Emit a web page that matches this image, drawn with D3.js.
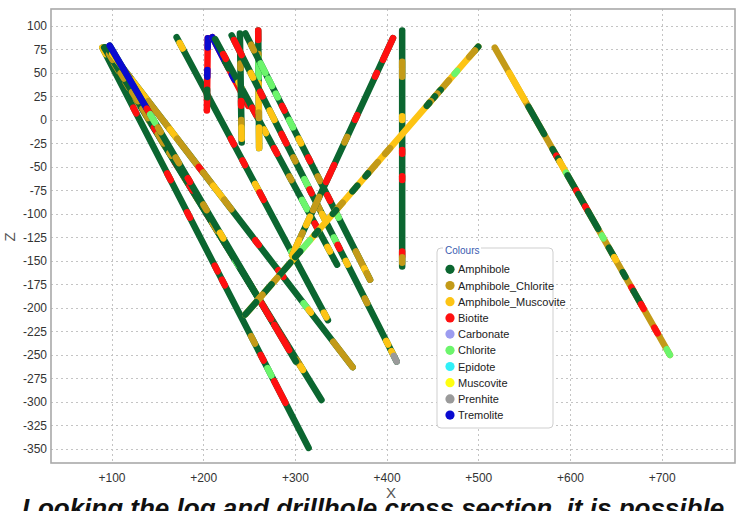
<!DOCTYPE html>
<html>
<head>
<meta charset="utf-8">
<script src="https://cdn.jsdelivr.net/npm/d3@7"></script>
<style>
  body { margin: 0; background: #ffffff; }
  svg { display: block; font-family: "Liberation Sans", Arial, sans-serif; }
</style>
</head>
<body>
<svg id="chart" width="736" height="511"></svg>
<script>
// Lithology legend
const lithCodes   = ["AM", "AC", "AMU", "BI", "CA", "CH", "EP", "MU", "PR", "TR"];
const lithNames   = ["Amphibole", "Amphibole_Chlorite", "Amphibole_Muscovite", "Biotite", "Carbonate",
                     "Chlorite", "Epidote", "Muscovite", "Prenhite", "Tremolite"];
const lithColours = ["#0b6630", "#c39a18", "#fdc414", "#ff1010", "#9c9cf0",
                     "#6cf56c", "#30f0f8", "#ffff10", "#9a9a9a", "#0a0ad0"];

// Axis ticks
const xTicks = [100, 200, 300, 400, 500, 600, 700];
const zTicks = [100, 75, 50, 25, 0, -25, -50, -75, -100, -125, -150, -175, -200,
                -225, -250, -275, -300, -325, -350];

// Drillhole traces in section: collar (x0, z0), end of hole (x1, z1), background lithology
const holes = [
  { id: "DH01", x0: 90,  z0: 77, x1: 315, z1: -349, base: "AM" },
  { id: "DH02", x0: 92,  z0: 77, x1: 329, z1: -298, base: "AM" },
  { id: "DH04", x0: 93,  z0: 77, x1: 296, z1: -247, base: "AM" },
  { id: "DH05", x0: 96,  z0: 76, x1: 363, z1: -263, base: "AM" },
  { id: "DH03", x0: 98,  z0: 79, x1: 301, z1: -257, base: "AM" },
  { id: "DH06", x0: 171, z0: 88, x1: 336, z1: -213, base: "AM" },
  { id: "DH07", x0: 205, z0: 87, x1: 204, z1: 10,   base: "BI" },
  { id: "DH08", x0: 210, z0: 88, x1: 249, z1: 15,   base: "BI" },
  { id: "DH09", x0: 213, z0: 86, x1: 346, z1: -154, base: "AM" },
  { id: "DH10", x0: 240, z0: 92, x1: 242, z1: -24,  base: "AM" },
  { id: "DH11", x0: 260, z0: 95, x1: 261, z1: -30,  base: "AM" },
  { id: "DH12", x0: 231, z0: 90, x1: 411, z1: -257, base: "AM" },
  { id: "DH13", x0: 246, z0: 92, x1: 382, z1: -170, base: "AM" },
  { id: "DH14", x0: 417, z0: 95, x1: 417, z1: -156, base: "AM" },
  { id: "DH15", x0: 407, z0: 87, x1: 297, z1: -144, base: "AM" },
  { id: "DH16", x0: 500, z0: 78, x1: 246, z1: -207, base: "AMU" },
  { id: "DH17", x0: 518, z0: 77, x1: 709, z1: -250, base: "AC" }
];

// Logged intervals by elevation: [top Z, bottom Z, lithology]
const intervals = {
  DH01: [[77, 70, "AMU"], [13, 7, "BI"], [-57, -64, "BI"], [-98, -104, "BI"], [-155, -161, "BI"],
         [-170, -176, "BI"], [-230, -238, "AC"], [-250, -256, "BI"], [-264, -272, "CH"], [-278, -301, "BI"]],
  DH02: [[60, 52, "AC"], [40, 34, "AC"], [22, 16, "AC"], [5, -2, "AC"], [-20, -28, "AC"], [-45, -50, "BI"],
         [-60, -68, "AC"], [-80, -86, "AC"], [-100, -106, "BI"], [-130, -135, "BI"], [-140, -145, "AC"],
         [-170, -176, "BI"], [-178, -200, "AC"], [-255, -262, "AC"], [-262, -266, "AMU"]],
  DH03: [[79, 12, "TR"], [12, 6, "BI"], [6, -3, "CH"], [-8, -13, "AC"], [-40, -46, "AC"], [-62, -66, "BI"],
         [-90, -96, "AC"], [-120, -126, "AMU"], [-195, -212, "BI"], [-218, -245, "BI"]],
  DH04: [[70, 64, "AC"], [50, 44, "AC"], [30, 20, "AC"], [12, 2, "AC"], [-8, -12, "BI"], [-15, -25, "AC"],
         [-35, -38, "AC"], [-70, -75, "BI"], [-110, -118, "AC"], [-150, -155, "CH"], [-205, -225, "BI"],
         [-228, -240, "BI"]],
  DH05: [[70, 62, "AMU"], [62, 42, "AC"], [42, 20, "AMU"], [20, -10, "AC"], [-10, -20, "AMU"], [-20, -50, "AC"],
         [-50, -56, "BI"], [-56, -70, "AC"], [-70, -85, "AMU"], [-85, -95, "AC"], [-128, -133, "BI"],
         [-160, -167, "BI"], [-195, -200, "CH"], [-202, -205, "AMU"], [-236, -263, "AC"]],
  DH06: [[82, 76, "AMU"], [-20, -26, "BI"], [-43, -48, "BI"], [-68, -74, "AMU"], [-77, -85, "BI"],
         [-140, -145, "CH"], [-205, -210, "AMU"]],
  DH07: [[87, 77, "TR"], [53, 46, "TR"], [32, 24, "AM"]],
  DH08: [[88, 62, "TR"], [62, 55, "AM"], [48, 43, "TR"]],
  DH09: [[70, 65, "BI"], [40, 35, "AMU"], [13, 5, "BI"], [-10, -14, "AMU"], [-30, -36, "BI"], [-60, -64, "AC"],
         [-85, -95, "CH"], [-110, -115, "BI"], [-135, -140, "AMU"]],
  DH10: [[60, 55, "AC"], [20, 15, "BI"], [0, -5, "AC"], [-8, -20, "AMU"]],
  DH11: [[95, 85, "BI"], [70, 66, "AC"], [66, 45, "CH"], [39, 8, "AMU"], [8, 2, "AC"], [-8, -30, "AMU"]],
  DH12: [[85, 69, "BI"], [50, 45, "AMU"], [30, 25, "BI"], [10, 0, "AMU"], [-15, -25, "BI"], [-40, -44, "AC"],
         [-63, -70, "CH"], [-74, -78, "BI"], [-90, -95, "AC"], [-100, -108, "AMU"], [-125, -130, "CH"],
         [-133, -137, "BI"], [-150, -154, "AMU"], [-190, -195, "AC"], [-235, -239, "AMU"], [-246, -250, "AMU"],
         [-251, -257, "PR"]],
  DH13: [[80, 74, "AC"], [60, 50, "CH"], [44, 36, "CH"], [28, 24, "CH"], [15, 10, "BI"], [0, -8, "CH"],
         [-20, -25, "AMU"], [-40, -44, "BI"], [-60, -65, "AC"], [-80, -86, "BI"], [-100, -104, "CH"],
         [-140, -158, "AC"], [-158, -163, "AMU"], [-163, -170, "AC"]],
  DH14: [[62, 56, "AC"], [53, 46, "AC"], [4, 0, "AMU"], [-32, -36, "BI"], [-60, -64, "BI"], [-140, -145, "BI"],
         [-146, -152, "AC"]],
  DH15: [[87, 64, "BI"], [50, 46, "BI"], [5, 0, "BI"], [-18, -24, "AC"], [-48, -52, "BI"], [-55, -60, "BI"],
         [-62, -66, "BI"], [-82, -96, "AC"], [-103, -112, "AMU"], [-120, -124, "AC"], [-128, -144, "AMU"]],
  DH16: [[78, 74, "AM"], [74, 67, "AC"], [52, 49, "CH"], [42, 35, "AC"], [32, 30, "AM"], [28, 26, "AC"],
         [25, 23, "AM"], [20, 18, "AC"], [18, 15, "AM"], [-30, -36, "AC"], [-45, -57, "AC"], [-57, -60, "AM"],
         [-70, -76, "AM"], [-88, -96, "AC"], [-96, -100, "AM"], [-118, -122, "AM"], [-128, -140, "CH"],
         [-140, -146, "AM"], [-152, -165, "AM"], [-168, -172, "AC"], [-175, -184, "AM"], [-186, -194, "AC"],
         [-194, -207, "AM"]],
  DH17: [[50, 21, "AMU"], [14, -15, "AM"], [-31, -38, "AM"], [-38, -41, "BI"], [-41, -44, "AM"],
         [-44, -56, "AMU"], [-56, -59, "CH"], [-59, -74, "AM"], [-75, -79, "BI"], [-79, -92, "AM"],
         [-92, -97, "BI"], [-97, -116, "AM"], [-123, -126, "CH"], [-136, -146, "AM"], [-146, -149, "AMU"],
         [-162, -167, "AM"], [-178, -182, "BI"], [-182, -196, "AM"], [-196, -201, "BI"], [-221, -227, "BI"],
         [-244, -250, "CH"]]
};

const colourOf = code => lithColours[lithCodes.indexOf(code)];

const svg = d3.select("#chart");
const plot = { left: 51, top: 9, right: 735, bottom: 463 };

const x = d3.scaleLinear().domain([34, 780]).range([plot.left, plot.right]);
const z = d3.scaleLinear().domain([118, -365]).range([plot.top, plot.bottom]);

// plot background
svg.append("rect")
  .attr("x", plot.left).attr("y", plot.top)
  .attr("width", plot.right - plot.left).attr("height", plot.bottom - plot.top)
  .attr("fill", "#ffffff");

// dotted grid
const grid = svg.append("g").attr("stroke", "#c4c4c4").attr("stroke-width", 1)
  .attr("stroke-dasharray", "2,3");
grid.selectAll("line.gx").data(xTicks).join("line")
  .attr("x1", d => Math.round(x(d)) + 0.5).attr("x2", d => Math.round(x(d)) + 0.5)
  .attr("y1", plot.top).attr("y2", plot.bottom);
grid.selectAll("line.gz").data(zTicks).join("line")
  .attr("y1", d => Math.round(z(d)) + 0.5).attr("y2", d => Math.round(z(d)) + 0.5)
  .attr("x1", plot.left).attr("x2", plot.right);

// frame
svg.append("rect")
  .attr("x", plot.left).attr("y", plot.top)
  .attr("width", plot.right - plot.left).attr("height", plot.bottom - plot.top)
  .attr("fill", "none").attr("stroke", "#a9a9a9").attr("stroke-width", 1.6);

// axes
const yAxis = svg.append("g")
  .attr("transform", `translate(${plot.left},0)`)
  .call(d3.axisLeft(z).tickValues(zTicks).tickSize(0).tickPadding(4).tickFormat(d => String(d)));
const xAxis = svg.append("g")
  .attr("transform", `translate(0,${plot.bottom})`)
  .call(d3.axisBottom(x).tickValues(xTicks).tickSize(0).tickPadding(10).tickFormat(d => "+" + d));
[yAxis, xAxis].forEach(a => {
  a.select(".domain").remove();
  a.selectAll("text").attr("font-size", 12).attr("fill", "#333333")
    .attr("font-family", "\"Liberation Sans\", Arial, sans-serif");
});

svg.append("text").attr("x", 391).attr("y", 498).attr("text-anchor", "middle")
  .attr("font-size", 15).attr("fill", "#555555").text("X");
svg.append("text").attr("transform", "translate(15,237) rotate(-90)").attr("text-anchor", "middle")
  .attr("font-size", 15).attr("fill", "#555555").text("Z");

// drillholes
const pointAt = (h, zz) => {
  const t = (h.z0 - zz) / (h.z0 - h.z1);
  return [x(h.x0 + t * (h.x1 - h.x0)), z(zz)];
};
const traces = svg.append("g").attr("stroke-linecap", "round").attr("stroke-width", 6.5);
holes.forEach(h => {
  const g = traces.append("g");
  g.append("line")
    .attr("x1", x(h.x0)).attr("y1", z(h.z0)).attr("x2", x(h.x1)).attr("y2", z(h.z1))
    .attr("stroke", colourOf(h.base));
  g.selectAll("line.iv").data(intervals[h.id] || []).join("line")
    .attr("class", "iv")
    .each(function (d) {
      const a = pointAt(h, d[0]), b = pointAt(h, d[1]);
      d3.select(this).attr("x1", a[0]).attr("y1", a[1]).attr("x2", b[0]).attr("y2", b[1]);
    })
    .attr("stroke", d => colourOf(d[2]));
});

// legend
const lg = svg.append("g").attr("transform", "translate(437,248)");
lg.append("rect").attr("width", 116).attr("height", 180).attr("rx", 4)
  .attr("fill", "#ffffff").attr("stroke", "#cfcfcf");
lg.append("rect").attr("x", 6).attr("y", -4).attr("width", 38).attr("height", 8).attr("fill", "#ffffff");
lg.append("text").attr("x", 8).attr("y", 6).attr("font-size", 10).attr("fill", "#3a5cb0").text("Colours");
const items = lg.selectAll("g.item").data(lithNames).join("g")
  .attr("transform", (d, i) => `translate(13,${21.3 + i * 16.2})`);
items.append("circle").attr("r", 4.6).attr("fill", (d, i) => lithColours[i]);
items.append("text").attr("x", 8).attr("y", 4).attr("font-size", 11).attr("fill", "#222222").text(d => d);

// caption running below the chart
svg.append("text").attr("x", 22).attr("y", 517)
  .attr("font-size", 26).attr("font-weight", "bold").attr("font-style", "italic").attr("fill", "#111111")
  .text("Looking the log and drillhole cross section, it is possible");
</script>
</body>
</html>
